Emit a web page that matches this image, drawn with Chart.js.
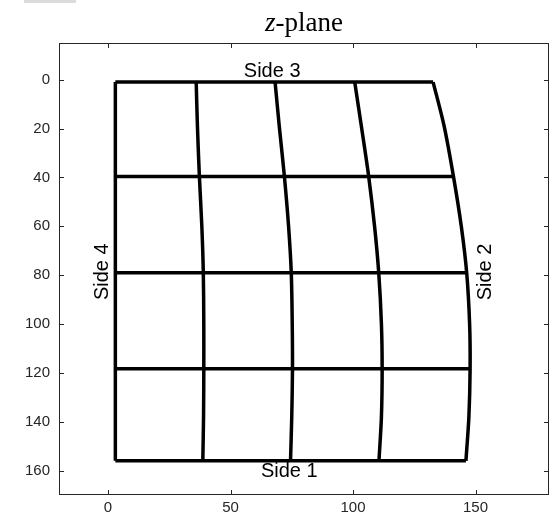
<!DOCTYPE html>
<html>
<head>
<meta charset="utf-8">
<script src="https://cdn.jsdelivr.net/npm/chart.js@4"></script>
<style>
  body { margin: 0; background: #fff; }
  .wrap { position: relative; width: 553px; height: 522px; }
  .title { position: absolute; top: 7px; left: 59px; width: 490px; text-align: center;
           font: 27px "Liberation Serif", serif; color: #000; }
  .strip { position: absolute; left: 24px; top: 0; width: 52px; height: 3px; background: #dcdcdc; }
</style>
</head>
<body>
<div class="wrap">
  <div class="strip"></div>
  <div class="title"><i>z</i>-plane</div>
  <canvas id="myChart"></canvas>
</div>
<script>
// tick labels
const xTicks = [0, 50, 100, 150];
const yTicks = [0, 20, 40, 60, 80, 100, 120, 140, 160];

// y values where each curve was sampled (top to bottom)
const sampleY = [1, 19, 39.6, 60, 79, 100, 118.3, 138, 156];
// which samples are on the horizontal grid lines
const rowIdx = [0, 2, 4, 6, 8];

// x of each vertical curve at sampleY
const col1 = [3, 3, 3, 3, 3, 3, 3, 3, 3];
const col2 = [36.0, 36.5, 37.3, 38.3, 38.9, 39.1, 39.1, 39.0, 38.7];
const col3 = [68.2, 69.9, 72.0, 73.7, 74.8, 75.2, 75.3, 75.0, 74.5];
const col4 = [100.7, 103.4, 106.4, 108.8, 110.5, 111.6, 111.9, 111.6, 110.6];
const col5 = [132.7, 137.2, 141.0, 144.2, 146.4, 147.6, 147.8, 147.3, 146.1];
const cols = [col1, col2, col3, col4, col5];

// side labels: text, data anchor, rotated?
const sideLabels = [
  { text: 'Side 1', x: 74, y: 160.5, rot: false },
  { text: 'Side 2', x: 154, y: 78.7, rot: true },
  { text: 'Side 3', x: 67, y: -3.4, rot: false },
  { text: 'Side 4', x: -2.4, y: 78.6, rot: true }
];

const datasets = [];
cols.forEach(c => {
  datasets.push({
    data: sampleY.map((y, i) => ({ x: c[i], y: y })),
    tension: 0.3
  });
});
rowIdx.forEach(r => {
  datasets.push({
    data: cols.map(c => ({ x: c[r], y: sampleY[r] })),
    tension: 0
  });
});
datasets.forEach(d => {
  d.showLine = true;
  d.borderColor = '#000';
  d.borderWidth = 3.5;
  d.borderJoinStyle = 'miter';
  d.pointRadius = 0;
  d.fill = false;
});

const axisColor = '#262626';

const frame = {
  id: 'frame',
  afterDatasetsDraw(chart) {
    const { ctx } = chart;
    const xs = chart.scales.x, ys = chart.scales.y;
    ctx.save();
    ctx.fillStyle = '#000';
    ctx.font = '20px "Liberation Sans", Arial, sans-serif';
    ctx.textAlign = 'center';
    ctx.textBaseline = 'middle';
    sideLabels.forEach(l => {
      const px = xs.getPixelForValue(l.x), py = ys.getPixelForValue(l.y);
      ctx.save();
      ctx.translate(px, py);
      if (l.rot) ctx.rotate(-Math.PI / 2);
      ctx.fillText(l.text, 0, 0);
      ctx.restore();
    });
    ctx.restore();
  },
  afterDraw(chart) {
    const { ctx, chartArea: a } = chart;
    const xs = chart.scales.x, ys = chart.scales.y;
    ctx.save();
    ctx.strokeStyle = axisColor;
    ctx.lineWidth = 1;
    ctx.strokeRect(a.left + 0.5, a.top + 0.5, a.right - a.left - 1, a.bottom - a.top - 1);
    const len = 5;
    ctx.beginPath();
    xTicks.forEach(v => {
      const p = Math.round(xs.getPixelForValue(v)) + 0.5;
      ctx.moveTo(p, a.bottom); ctx.lineTo(p, a.bottom - len);
      ctx.moveTo(p, a.top); ctx.lineTo(p, a.top + len);
    });
    yTicks.forEach(v => {
      const p = Math.round(ys.getPixelForValue(v)) + 0.5;
      ctx.moveTo(a.left, p); ctx.lineTo(a.left + len, p);
      ctx.moveTo(a.right, p); ctx.lineTo(a.right - len, p);
    });
    ctx.stroke();
    ctx.restore();
  }
};

const tickFont = { family: '"Liberation Sans", Arial, sans-serif', size: 15 };

new Chart(document.getElementById('myChart'), {
  type: 'scatter',
  data: { datasets },
  options: {
    responsive: true,
    maintainAspectRatio: false,
    animation: false,
    layout: { padding: { top: 43, right: 4, left: 0, bottom: 0 } },
    plugins: { legend: { display: false }, tooltip: { enabled: false } },
    scales: {
      x: {
        type: 'linear', min: -20, max: 180,
        grid: { display: false, drawTicks: false },
        border: { display: false },
        ticks: { color: axisColor, font: tickFont, padding: 4, maxRotation: 0 },
        afterBuildTicks: s => { s.ticks = xTicks.map(v => ({ value: v })); },
        afterFit: s => { s.height = 27; }
      },
      y: {
        type: 'linear', min: -15, max: 170, reverse: true,
        grid: { display: false, drawTicks: false },
        border: { display: false },
        ticks: { color: axisColor, font: tickFont, padding: 9 },
        afterBuildTicks: s => { s.ticks = yTicks.map(v => ({ value: v })); },
        afterFit: s => { s.width = 59; }
      }
    }
  },
  plugins: [frame]
});
</script>
</body>
</html>
